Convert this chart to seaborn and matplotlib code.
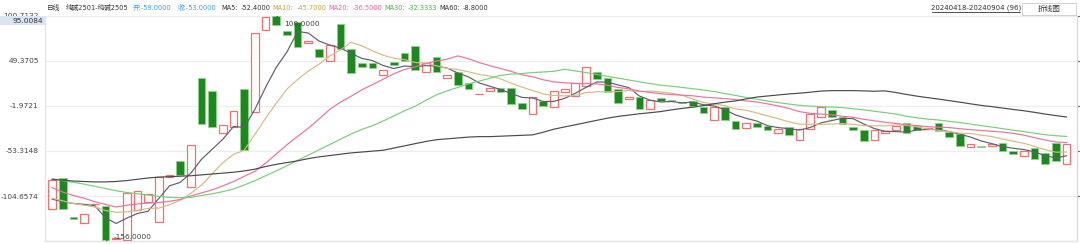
import matplotlib
matplotlib.use('Agg')
import matplotlib.pyplot as plt
import matplotlib.patches as mpatches
import seaborn as sns
import numpy as np
import pandas as pd

# ---------------- data ----------------
opens = [-119.6, -83.7, -128, -135.5, -114, -115.5, -153.5, -154.5, -120.4, -111,
         -134.1, -82.5, -64.3, -93.9, 29.7, 14.6, -33.2, -25.7, 16.8, -8.6,
         84.3, 100, 83.5, 93, 69.2, 63, 49, 91.1, 62.3, 46.4,
         47, 32.8, 48.2, 58, 66, 36.2, 53.2, 30, 36.2, 23.7,
         11, 14.9, 18, 18.7, 0.9, -11.2, 3.9, -3.6, 13.8, 9.2,
         20.3, 36.2, 29.4, 16.8, 6.2, 8.4, -5.6, 7, 5, 1.5,
         3.5, -3.6, -18.1, -3.6, -18.9, -27.2, -21.8, -24.5, -33.2, -25.7,
         -40.8, -28.6, -15, -6.7, -14.3, -26, -29.4, -40.8, -32.5, -29.6,
         -21.8, -24.5, -28.6, -21.1, -31.7, -34, -48.8, -48.4, -47.3, -43.9,
         -53.3, -59, -50.2, -55.9, -43.9, -68.4]
closes = [-86.3, -119.6, -131, -125.3, -114, -155, -152, -101.4, -98.5, -102.2,
          -82.5, -80.6, -81, -46.2, -23, -25.7, -23.7, -8.2, -52.2, 80.5,
          99, 90, 79, 64.6, 71.4, 53.6, 66.9, 62.3, 35, 42.2,
          41, 38.8, 44.8, 49.4, 39, 46.4, 36.5, 33, 21.7, 16.8,
          12, 18, 13.8, 0, -5.6, 8.4, -1.8, 14.6, 16.8, 23.7,
          41.9, 28.6, 14.1, 0.9, 8.4, -5.9, 4.7, 3.9, 3.5, 1,
          -1.8, -10.4, -2.9, -18.1, -28.6, -21.1, -25.7, -29.4, -28.6, -35.1,
          -28.6, -11.2, -3.6, -15, -22.6, -30, -41.9, -29.4, -30.6, -24.5,
          -33.2, -29.4, -26.8, -30.2, -37.1, -47.6, -45.7, -49.1, -45.4, -53.7,
          -57.1, -53, -62.4, -67.8, -65, -45.7]

ma5 = [-108, -111, -113, -114, -115.4, -129.2, -135.7, -129.7, -124.4, -121.8,
       -107.3, -93.0, -89.0, -78.5, -62.7, -51.3, -39.9, -25.4, -26.6, -5.9,
       19.1, 41.8, 59.3, 82.6, 80.8, 71.7, 67.1, 63.8, 57.8, 52.0,
       49.5, 43.9, 40.4, 43.2, 42.6, 43.7, 43.2, 40.9, 35.3, 30.9,
       24.0, 20.3, 16.5, 12.1, 7.6, 6.9, 3.0, 3.1, 6.5, 12.3,
       19.0, 25.1, 25.0, 21.8, 18.8, 9.2, 4.4, 2.4, 2.9, 1.4,
       2.3, -0.8, -2.1, -6.4, -12.4, -16.2, -19.3, -24.6, -26.7, -28.0,
       -29.5, -26.6, -21.4, -18.7, -16.2, -16.5, -22.6, -27.8, -30.9, -31.3,
       -31.9, -29.4, -28.9, -28.8, -31.3, -34.2, -37.5, -41.9, -45.0, -48.3,
       -50.2, -51.7, -54.3, -58.8, -61.1, -58.8]
ma10 = [-107, -110, -113, -115, -117, -121, -123, -122.5, -121, -118.6,
        -118.3, -114.4, -109.4, -101.4, -92.2, -79.3, -66.5, -57.2, -52.5, -34.3,
        -16.1, 1.0, 17.0, 28.0, 37.5, 45.4, 54.5, 61.5, 70.2, 66.4,
        60.6, 55.5, 52.1, 50.5, 47.3, 46.6, 43.5, 40.6, 39.3, 36.7,
        33.8, 31.8, 28.7, 23.7, 19.3, 15.5, 11.6, 9.8, 9.3, 10.0,
        13.0, 14.0, 14.1, 14.2, 15.6, 14.1, 14.8, 13.7, 12.4, 10.1,
        5.7, 1.8, 0.1, -1.8, -5.5, -7.0, -10.0, -13.4, -16.6, -20.2,
        -22.9, -22.9, -23.0, -22.7, -22.1, -23.0, -24.6, -24.6, -24.8, -23.7,
        -24.2, -26.0, -28.3, -29.9, -31.3, -33.1, -33.5, -35.4, -36.9, -39.8,
        -42.2, -44.6, -48.1, -51.9, -54.7, -54.5]
ma20 = [-95, -100, -104, -107, -111, -114, -117, -115, -113.5, -112.5,
        -112, -110.5, -108.5, -104.5, -101, -97.5, -93, -88, -82, -76.4,
        -67.2, -56.7, -46.2, -36.7, -27.4, -17.0, -6.0, 2.2, 8.9, 16.1,
        22.2, 28.2, 34.5, 39.3, 42.4, 46.0, 49.0, 51.1, 54.8, 51.6,
        47.2, 43.6, 40.4, 37.1, 33.3, 31.0, 27.6, 25.2, 24.3, 23.4,
        23.4, 22.9, 21.4, 18.9, 17.4, 14.8, 13.2, 11.8, 10.8, 10.1,
        9.4, 7.9, 7.1, 6.2, 5.1, 3.6, 2.4, 0.2, -2.1, -5.0,
        -8.6, -10.5, -11.4, -12.2, -13.8, -15.0, -17.3, -19.0, -20.7, -22.0,
        -23.5, -24.5, -25.7, -26.3, -26.7, -28.0, -29.0, -30.0, -30.9, -31.8,
        -33.2, -35.3, -38.2, -40.9, -43.0, -43.8]
ma30 = [-85, -87, -89, -91, -93.5, -96, -98.5, -100.5, -102, -103.5,
        -105, -106, -106.5, -106, -104, -102, -99.5, -96.5, -92, -87,
        -81.5, -76, -70, -64, -58, -52, -46, -40, -34, -28.8,
        -24.6, -19.3, -13.4, -7.6, -2.5, 4.2, 10.5, 15.0, 19.0, 23.0,
        26.1, 29.4, 32.6, 34.1, 34.7, 35.8, 36.5, 37.3, 39.6, 37.7,
        35.8, 33.8, 31.6, 29.5, 27.4, 25.4, 23.3, 21.4, 20.3, 18.9,
        17.5, 15.9, 14.3, 12.0, 9.8, 7.5, 5.5, 3.4, 1.7, 0.0,
        -1.4, -2.4, -2.9, -3.4, -4.0, -5.3, -6.6, -8.1, -9.7, -11.3,
        -13.8, -15.7, -17.1, -18.1, -19.6, -21.0, -22.7, -24.5, -26.1, -27.9,
        -29.8, -31.2, -33.2, -34.8, -36.0, -36.8]
ma60 = [-85.5, -86.5, -87.5, -88, -88.5, -88.5, -88, -87, -85.5, -84,
        -83, -82.5, -82, -81.5, -80.5, -79.5, -78.5, -77.5, -76, -74,
        -71, -68.5, -66.5, -64.5, -62, -60, -58.5, -57, -55.5, -54.5,
        -53.5, -52.5, -50, -47.5, -45, -42.5, -40.5, -39.5, -38.5, -37.5,
        -37, -37, -36.5, -36, -35.5, -35, -32, -28.5, -26, -23.5,
        -21, -18.5, -16, -14, -12.5, -11, -9.8, -8.5, -6.5, -4.9,
        -3.5, -1.7, 0.4, 2.2, 3.6, 5.9, 8.0, 9.2, 10.4, 11.5,
        12.4, 13.5, 14.8, 15.3, 15.3, 15.3, 15.0, 14.6, 15.0, 13.2,
        11.0, 9.0, 7.3, 5.7, 3.9, 2.2, 0.3, -1.5, -2.9, -4.5,
        -6.1, -7.6, -9.4, -11.4, -13.1, -14.7]

ytick_vals = [-104.6574, -53.3148, -1.9721, 49.3705, 100.7132]
ytick_labels = ['-104.6574', '-53.3148', '-1.9721', '49.3705', '100.7132']

# ---------------- styling ----------------
sns.set_theme(style='white')
plt.rcParams['font.family'] = ['DejaVu Sans', 'Noto Sans CJK SC']

W, H = 1080, 244
fig = plt.figure(figsize=(W / 100, H / 100), dpi=100)
ax_left, ax_right, ax_top, ax_bot = 45, 1077, 15.5, 241.3
ax = fig.add_axes([ax_left / W, (H - ax_bot) / H, (ax_right - ax_left) / W, (ax_bot - ax_top) / H])

n = len(opens)
x = np.arange(n)
df = pd.DataFrame({'x': x, 'open': opens, 'close': closes})
df['lo'] = df[['open', 'close']].min(axis=1)
df['h'] = (df['close'] - df['open']).abs().clip(lower=0.9)
up = df['close'] >= df['open']

# grid
for v in [-156.0] + ytick_vals:
    ax.axhline(v, color='#eeeef2', lw=0.9, zorder=0)

# candles
ax.bar(df.loc[up, 'x'], df.loc[up, 'h'], bottom=df.loc[up, 'lo'], width=0.72,
       facecolor='white', edgecolor='#f07070', linewidth=0.9, zorder=3)
ax.bar(df.loc[~up, 'x'], df.loc[~up, 'h'], bottom=df.loc[~up, 'lo'], width=0.72,
       facecolor='#1a8a1d', edgecolor='#8fd28f', linewidth=0.6, zorder=3)

# moving averages
ma_df = pd.DataFrame({'x': x, 'MA5': ma5, 'MA10': ma10, 'MA20': ma20, 'MA30': ma30, 'MA60': ma60})
long = ma_df.melt(id_vars='x', var_name='ma', value_name='v')
palette = {'MA5': '#5e5e6e', 'MA10': '#d6ba80', 'MA20': '#f0709e', 'MA30': '#76d076', 'MA60': '#4a4a4a'}
sns.lineplot(data=long, x='x', y='v', hue='ma', palette=palette, legend=False,
             linewidth=0.85, ax=ax, zorder=4, estimator=None)

ax.set_xlim(-0.655, 95.97)
ax.set_ylim(-156, 100.7132)
ax.set_xlabel('')
ax.set_ylabel('')
ax.set_xticks([])
ax.set_yticks(ytick_vals)
ax.set_yticklabels(ytick_labels)
ax.tick_params(axis='y', left=False, right=True, labelleft=True, labelright=False,
               direction='out', length=2.5, width=0.8, color='#666666',
               labelsize=5.3, labelcolor='#444444', pad=2)
for s in ['left', 'bottom']:
    ax.spines[s].set_color('#e3e3ea')
    ax.spines[s].set_linewidth(0.9)
ax.spines['top'].set_visible(False)
ax.spines['right'].set_color('#d8d8e0')
ax.spines['right'].set_linewidth(0.9)

# max / min markers
ax.annotate('100.0000', xy=(21.05, 99.5), xytext=(5, -5), textcoords='offset points',
            fontsize=5.3, color='#444444', va='center', ha='left',
            arrowprops=dict(arrowstyle='-', color='#444444', lw=0.6), zorder=6)
ax.annotate('-156.0000', xy=(5.1, -155.5), xytext=(5, 3), textcoords='offset points',
            fontsize=5.3, color='#444444', va='center', ha='left',
            arrowprops=dict(arrowstyle='-', color='#444444', lw=0.6), zorder=6)

# crosshair price box on the left axis
fig.patches.append(mpatches.Rectangle((0, 1 - 25 / H), 45 / W, 8.5 / H, transform=fig.transFigure,
                                      facecolor='#d9e5f7', edgecolor='none', zorder=5))
fig.text(43 / W, 1 - 20.7 / H, '95.0084', fontsize=5.3, color='#333333', ha='right', va='center', zorder=6)

# header line
yh = 1 - 7.5 / H
hfs = 4.8
for px, t, c in [(47, '日线', '#333333'), (66, '纯碱2501-纯碱2505', '#333333'),
                 (133, '开:-59.0000', '#3d9cf0'), (178, '收:-53.0000', '#3d9cf0')]:
    fig.text(px / W, yh, t, fontsize=hfs, color=c, ha='left', va='center')

fig.canvas.draw()
renderer = fig.canvas.get_renderer()
ma_items = [('MA5:', '#333333', 3), ('-52.4000', '#333333', 2),
            ('MA10:', '#c9a23a', 3), ('-45.7000', '#c9a23a', 2),
            ('MA20:', '#f0609a', 3), ('-36.5000', '#f0609a', 2),
            ('MA30:', '#40b840', 3), ('-32.3333', '#40b840', 2),
            ('MA60:', '#333333', 3), ('-8.8000', '#333333', 2)]
cur = 221.0
for t, c, gap in ma_items:
    txt = fig.text(cur / W, yh, t, fontsize=hfs, color=c, ha='left', va='center')
    bb = txt.get_window_extent(renderer=renderer)
    cur = bb.x1 + gap

# date range (underlined) and button
fig.text(976 / W, yh, '20240418-20240904 (96)', fontsize=5.0, color='#333333', ha='center', va='center')
fig.add_artist(plt.Line2D([932 / W, 1020 / W], [1 - 11.5 / H, 1 - 11.5 / H], color='#333333', lw=0.6))
fig.patches.append(mpatches.Rectangle((1022 / W, 1 - 14.5 / H), 54 / W, 12 / H, transform=fig.transFigure,
                                      facecolor='white', edgecolor='#d0d0d0', lw=0.7))
fig.text(1049 / W, 1 - 8.5 / H, '折线图', fontsize=5.5, color='#333333', ha='center', va='center',
         family=['Noto Sans CJK SC', 'DejaVu Sans'])

fig.savefig('out.png', dpi=100)
